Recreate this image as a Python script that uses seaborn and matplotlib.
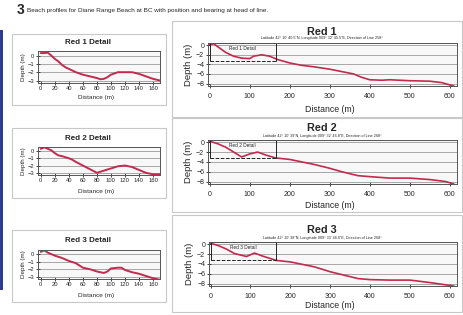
import matplotlib
matplotlib.use('Agg')
import matplotlib.pyplot as plt
import seaborn as sns
from matplotlib.patches import Rectangle

sns.set_style('white')
plt.rcParams['font.family'] = ['Liberation Sans', 'DejaVu Sans']

W, H = 464, 315
LINE = '#c42a4e'

# profile data (distance m, depth m)
red1_detail_x = [0, 5, 10, 15, 20, 25, 30, 35, 40, 50, 60, 70, 80, 85, 90, 95, 100, 110, 120, 130, 140, 150, 160, 170]
red1_detail_y = [0.3, 0.3, 0.35, 0.0, -0.4, -0.7, -1.1, -1.4, -1.6, -2.0, -2.3, -2.5, -2.7, -2.85, -2.8, -2.6, -2.3, -2.0, -2.0, -2.0, -2.2, -2.5, -2.8, -3.0]
red2_detail_x = [0, 5, 10, 15, 20, 25, 30, 40, 45, 50, 60, 70, 80, 90, 100, 110, 120, 130, 140, 150, 160, 170]
red2_detail_y = [0.3, 0.5, 0.3, 0.1, -0.3, -0.6, -0.7, -1.0, -1.2, -1.5, -2.0, -2.5, -3.0, -2.7, -2.4, -2.1, -2.0, -2.2, -2.6, -3.0, -3.2, -3.2]
red3_detail_x = [0, 5, 10, 20, 30, 40, 50, 60, 70, 80, 90, 95, 100, 110, 115, 120, 130, 140, 150, 160, 170]
red3_detail_y = [0.3, 0.5, 0.2, -0.2, -0.5, -0.9, -1.2, -1.8, -2.0, -2.3, -2.5, -2.3, -1.9, -1.8, -1.8, -2.1, -2.4, -2.6, -2.9, -3.2, -3.4]

red1_x = [0, 10, 20, 40, 60, 80, 100, 110, 130, 150, 170, 200, 230, 260, 300, 330, 360, 380, 400, 430, 450, 500, 550, 580, 610]
red1_y = [0.1, 0.3, -0.3, -1.5, -2.3, -2.7, -2.8, -2.3, -2.0, -2.3, -3.0, -3.7, -4.2, -4.5, -5.0, -5.5, -6.0, -6.7, -7.2, -7.3, -7.2, -7.4, -7.5, -7.8, -8.5]
red2_x = [0, 20, 40, 60, 80, 100, 120, 140, 165, 200, 230, 260, 300, 330, 370, 400, 450, 500, 550, 590, 610]
red2_y = [0.2, -0.3, -1.0, -2.0, -3.0, -2.4, -2.0, -2.6, -3.2, -3.5, -4.0, -4.5, -5.3, -6.0, -6.8, -7.0, -7.3, -7.3, -7.6, -8.0, -8.5]
red3_x = [0, 20, 40, 60, 90, 110, 130, 165, 200, 230, 260, 300, 330, 370, 400, 450, 500, 550, 610]
red3_y = [0.2, -0.3, -1.0, -1.9, -2.5, -1.8, -2.4, -3.3, -3.6, -4.1, -4.6, -5.6, -6.2, -7.0, -7.2, -7.3, -7.3, -7.8, -8.5]

names = ['Red 1', 'Red 2', 'Red 3']
subtitles = ["Latitude 42\u00b0 10' 40.5\"N, Longitude 009\u00b0 32' 45.5\"E, Direction of Line 258\u00b0",
             "Latitude 42\u00b0 10' 39\"N, Longitude 009\u00b0 32' 46.8\"E, Direction of Line 268\u00b0",
             "Latitude 42\u00b0 10' 38\"N, Longitude 009\u00b0 33' 46.0\"E, Direction of Line 268\u00b0"]
detail_data = [(red1_detail_x, red1_detail_y), (red2_detail_x, red2_detail_y), (red3_detail_x, red3_detail_y)]
full_data = [(red1_x, red1_y), (red2_x, red2_y), (red3_x, red3_y)]

fig = plt.figure(figsize=(W / 100, H / 100), dpi=100)


def px_axes(x0, y0, x1, y1):
    # pixel box (top-left origin) -> axes
    return fig.add_axes([x0 / W, 1 - y1 / H, (x1 - x0) / W, (y1 - y0) / H])


def px_box(x0, y0, x1, y1, color='#c8c8c8'):
    fig.patches.append(Rectangle((x0 / W, 1 - y1 / H), (x1 - x0) / W, (y1 - y0) / H,
                                 transform=fig.transFigure, fill=False, edgecolor=color, lw=0.8))


def fx(x):
    return x / W


def fy(y):
    return 1 - y / H


# header
fig.text(fx(17), fy(10), '3', fontsize=10, fontweight='bold', va='center')
fig.text(fx(27), fy(10.5), 'Beach profiles for Diane Range Beach at BC with position and bearing at head of line.',
         fontsize=4.6, va='center')
# blue side bar
fig.patches.append(Rectangle((0, fy(290)), fx(3), (290 - 30) / H, transform=fig.transFigure,
                             color='#2a3d8c', lw=0))


def style(ax, fs, xpad):
    ax.set_facecolor('#f8f8f8')
    ax.grid(axis='y', color='#9a9a9a', lw=0.6)
    ax.grid(axis='x', visible=False)
    for s in ax.spines.values():
        s.set_color('#555555')
        s.set_linewidth(0.7)
    ax.tick_params(direction='inout', length=2.5, width=0.6, labelsize=fs, pad=1.5,
                   bottom=True, left=True)
    ax.tick_params(axis='x', pad=xpad)


# left detail panels
left_boxes = [(12, 34, 166, 105), (12, 128, 166, 198), (12, 230, 166, 302)]
left_axes = [(38, 51, 160, 83), (38, 147, 160, 175), (38, 250, 160, 279)]
left_title_y = [42, 139, 241]
left_xlabel_y = [97, 192, 295]
for i in range(3):
    px_box(*left_boxes[i])
    ax = px_axes(*left_axes[i])
    dx, dy = detail_data[i]
    sns.lineplot(x=dx, y=dy, ax=ax, color=LINE, lw=1.4)
    style(ax, 4.2, 1.2)
    ax.set_xlim(-4, 170)
    ax.set_ylim(-3.3, 0.55)
    ax.set_xticks(range(0, 170, 20))
    ax.set_yticks([0, -1, -2, -3])
    ax.set_ylabel('Depth (m)', fontsize=4.5, labelpad=1)
    ax.set_xlabel('')
    fig.text(fx(88), fy(left_title_y[i]), names[i] + ' Detail', fontsize=5.8, fontweight='bold',
             ha='center', va='center')
    fig.text(fx(96), fy(left_xlabel_y[i]), 'Distance (m)', fontsize=4.6, ha='center', va='center')

# right full profiles
right_boxes = [(172, 21, 462, 117), (172, 118, 462, 212), (172, 215, 462, 312)]
right_axes = [(208, 43, 457, 86), (208, 140, 457, 184), (209, 242, 457, 286)]
right_title_y = [32, 128, 230]
right_sub_y = [38, 136, 238]
right_xlabel_y = [110, 206, 306]
for i in range(3):
    px_box(*right_boxes[i])
    ax = px_axes(*right_axes[i])
    fx_, fy_ = full_data[i]
    sns.lineplot(x=fx_, y=fy_, ax=ax, color=LINE, lw=1.2)
    style(ax, 5.0, 3.5)
    ax.set_xlim(-4, 618)
    ax.set_ylim(-8.5, 0.45)
    ax.set_xticks(range(0, 601, 100))
    ax.set_yticks([0, -2, -4, -6, -8])
    ax.set_ylabel('Depth (m)', fontsize=6.8, labelpad=2)
    ax.set_xlabel('')
    # detail window marker
    ax.plot([0, 0, 165, 165], [-3.2, 0.4, 0.4, -3.2], color='#222222', lw=0.7)
    ax.plot([0, 165], [-3.2, -3.2], color='#222222', lw=0.7, ls='--')
    ax.text(82, -0.6, names[i] + ' Detail', fontsize=3.4, ha='center', va='center')
    fig.text(fx(322), fy(right_title_y[i]), names[i], fontsize=7.8, fontweight='bold',
             ha='center', va='center')
    fig.text(fx(322), fy(right_sub_y[i]), subtitles[i], fontsize=2.7, ha='center', va='center')
    fig.text(fx(330), fy(right_xlabel_y[i]), 'Distance (m)', fontsize=6.3, ha='center', va='center')

fig.savefig('out.png', dpi=100)
